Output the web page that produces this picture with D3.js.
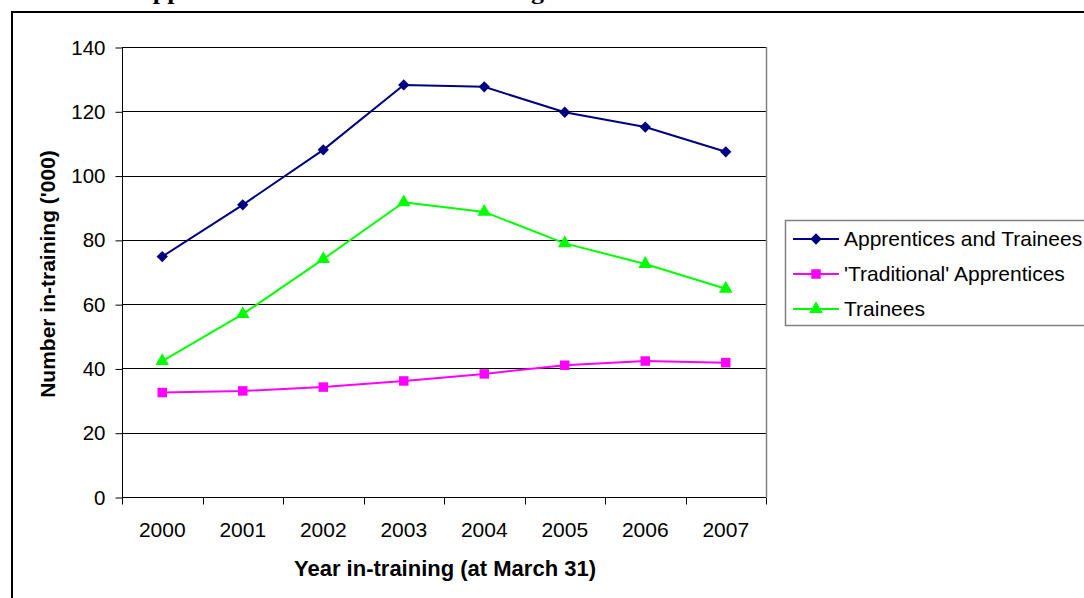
<!DOCTYPE html>
<html><head><meta charset="utf-8">
<script src="https://cdn.jsdelivr.net/npm/d3@7"></script>
<style>
html,body{margin:0;padding:0;background:#fff;}
svg{display:block;}
text{font-family:"Liberation Sans",Arial,sans-serif;fill:#000;}
</style></head>
<body>
<script>
const years = ["2000","2001","2002","2003","2004","2005","2006","2007"];
const apprenticesAndTrainees = [74.8, 90.9, 108.0, 128.2, 127.6, 119.7, 115.1, 107.4];
const traditionalApprentices = [32.5, 33.0, 34.2, 36.1, 38.3, 41.0, 42.3, 41.8];
const trainees = [42.3, 56.9, 74.0, 91.7, 88.7, 78.9, 72.5, 64.8];
const yTicks = [0, 20, 40, 60, 80, 100, 120, 140];
const seriesNames = ["Apprentices and Trainees", "'Traditional' Apprentices", "Trainees"];
const seriesColors = ["#000080", "#FF00FF", "#00FF00"];
const seriesSymbols = [d3.symbolSquare, d3.symbolSquare, d3.symbolTriangle];
const seriesRotate = [45, 0, 0];
const seriesSizes = [64, 90, 80];
const titleText = "Apprentices and Trainees in-training";

const W = 1084, H = 598;
const svg = d3.select("body").append("svg").attr("width", W).attr("height", H);

// cropped title at the very top
svg.append("text").attr("x", 134).attr("y", -1)
  .style("font-family", "'Liberation Serif','Times New Roman',serif")
  .style("font-weight", "bold").style("font-size", "22px")
  .attr("textLength", 410).attr("lengthAdjust", "spacingAndGlyphs")
  .text(titleText);

// outer chart frame
svg.append("rect").attr("x", 12).attr("y", 12).attr("width", 1100).attr("height", 620)
  .attr("fill", "none").attr("stroke", "#000").attr("stroke-width", 2);

const plot = {left: 122, right: 766, top: 47, bottom: 497};
const x = d3.scaleBand().domain(years).range([plot.left, plot.right]);
const y = d3.scaleLinear().domain([0, 140]).range([plot.bottom, plot.top]);

// gridlines
svg.append("g").selectAll("line").data(yTicks.filter(d => d > 0)).join("line")
  .attr("x1", plot.left).attr("x2", plot.right)
  .attr("y1", d => Math.round(y(d)) + 0.5).attr("y2", d => Math.round(y(d)) + 0.5)
  .attr("stroke", "#000").attr("stroke-width", 1);

// plot right border
svg.append("line").attr("x1", plot.right + 0.5).attr("x2", plot.right + 0.5)
  .attr("y1", plot.top).attr("y2", plot.bottom).attr("stroke", "#808080").attr("stroke-width", 1.5);

// y axis
const yAxis = d3.axisLeft(y).tickValues(yTicks).tickSize(7).tickPadding(10);
const gy = svg.append("g").attr("transform", `translate(${plot.left + 0.5},0.5)`).call(yAxis);
gy.selectAll("text").style("font-size", "20.5px");
gy.select(".domain").attr("d", `M0,${plot.top - 0.5}V${plot.bottom - 0.5}`);

// x axis with ticks at band boundaries
const gx = svg.append("g").attr("transform", `translate(0,${plot.bottom + 0.5})`);
gx.append("line").attr("x1", plot.left).attr("x2", plot.right).attr("stroke", "#000");
const bounds = years.map(d => x(d)).concat([x(years[years.length - 1]) + x.bandwidth()]);
gx.selectAll("line.tk").data(bounds).join("line").attr("class", "tk")
  .attr("x1", d => Math.round(d) + 0.5).attr("x2", d => Math.round(d) + 0.5)
  .attr("y1", 0).attr("y2", 7).attr("stroke", "#000");
gx.selectAll("text").data(years).join("text")
  .attr("x", d => x(d) + x.bandwidth() / 2).attr("y", 39.5)
  .attr("text-anchor", "middle").style("font-size", "21px").text(d => d);

// axis titles
svg.append("text").attr("transform", "translate(55,274) rotate(-90)")
  .attr("text-anchor", "middle").style("font-size", "21px").style("font-weight", "bold")
  .text("Number in-training ('000)");
svg.append("text").attr("x", 445).attr("y", 576)
  .attr("text-anchor", "middle").style("font-size", "22px").style("font-weight", "bold")
  .text("Year in-training (at March 31)");

// series
const allSeries = [apprenticesAndTrainees, traditionalApprentices, trainees];
const line = d3.line().x((d, i) => x(years[i]) + x.bandwidth() / 2).y(d => y(d));
allSeries.forEach((vals, si) => {
  svg.append("path").datum(vals).attr("d", line)
    .attr("fill", "none").attr("stroke", seriesColors[si]).attr("stroke-width", 2);
  svg.append("g").selectAll("path").data(vals).join("path")
    .attr("transform", (d, i) => `translate(${x(years[i]) + x.bandwidth() / 2},${y(d)}) rotate(${seriesRotate[si]})`)
    .attr("d", d3.symbol().type(seriesSymbols[si]).size(seriesSizes[si]))
    .attr("fill", seriesColors[si]);
});

// legend
const lg = svg.append("g");
lg.append("rect").attr("x", 785.5).attr("y", 220.5).attr("width", 330).attr("height", 105)
  .attr("fill", "#fff").attr("stroke", "#808080").attr("stroke-width", 1.5);
seriesNames.forEach((name, i) => {
  const yy = 239 + i * 35;
  lg.append("line").attr("x1", 793).attr("x2", 839).attr("y1", yy).attr("y2", yy)
    .attr("stroke", seriesColors[i]).attr("stroke-width", 2);
  lg.append("path").attr("transform", `translate(816,${yy}) rotate(${seriesRotate[i]})`)
    .attr("d", d3.symbol().type(seriesSymbols[i]).size(seriesSizes[i])).attr("fill", seriesColors[i]);
  lg.append("text").attr("x", 844).attr("y", yy + 7).style("font-size", "21px").text(name);
});
</script>
</body></html>
